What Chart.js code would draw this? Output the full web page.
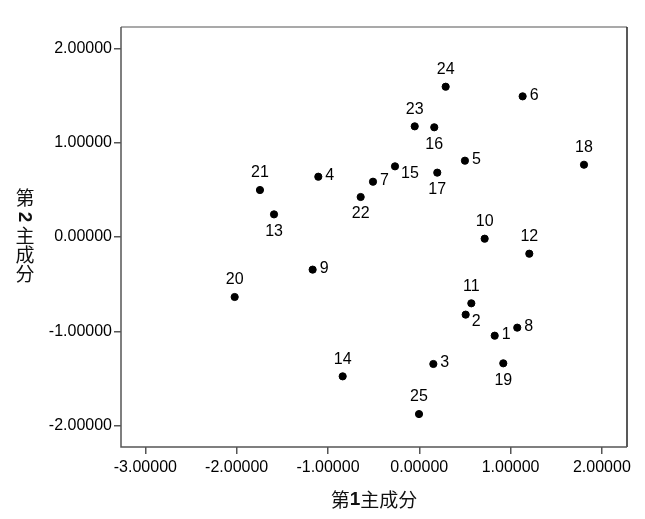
<!DOCTYPE html>
<html>
<head>
<meta charset="utf-8">
<title>主成分得分散点图</title>
<script src="https://cdn.jsdelivr.net/npm/chart.js@4.4.0/dist/chart.umd.min.js"></script>
<style>
  body { margin: 0; background: #fff; }
  canvas { display: block; }
</style>
</head>
<body>
<canvas id="chart" width="645" height="519"></canvas>
<script>
// case numbers and their scores on the two components
const caseIds = [1, 2, 3, 4, 5, 6, 7, 8, 9, 10, 11, 12, 13, 14, 15, 16, 17, 18, 19, 20, 21, 22, 23, 24, 25];
const comp1 = [0.826, 0.508, 0.154, -1.106, 0.500, 1.132, -0.507, 1.073, -1.168, 0.716, 0.570, 1.205, -1.591,
  -0.839, -0.266, 0.164, 0.197, 1.804, 0.920, -2.022, -1.745, -0.642, -0.050, 0.289, -0.003];
const comp2 = [-1.046, -0.823, -1.346, 0.639, 0.809, 1.491, 0.586, -0.961, -0.346, -0.018, -0.703, -0.177, 0.240,
  -1.477, 0.749, 1.163, 0.682, 0.766, -1.339, -0.636, 0.498, 0.424, 1.173, 1.593, -1.877];
// where each case label sits: t = above, b = below, r = right, br = lower right
const labelSide = ['r', 'br', 'r', 'r', 'r', 'r', 'r', 'r', 'r', 't', 't', 't', 'b',
  't', 'br', 'b', 'b', 't', 'b', 't', 't', 'b', 't', 't', 't'];

const xTicks = [-3, -2, -1, 0, 1, 2];
const yTicks = [-2, -1, 0, 1, 2];

const points = caseIds.map((id, i) => ({ x: comp1[i], y: comp2[i] }));

const numFont = '16px "Liberation Sans", Arial, sans-serif';

// case number next to every dot
const caseLabels = {
  id: 'caseLabels',
  afterDatasetsDraw(chart) {
    const ctx = chart.ctx;
    const meta = chart.getDatasetMeta(0);
    ctx.save();
    ctx.font = numFont;
    ctx.fillStyle = '#000';
    ctx.textBaseline = 'middle';
    meta.data.forEach((pt, i) => {
      const side = labelSide[i];
      let x = pt.x, y = pt.y;
      if (side === 't') { ctx.textAlign = 'center'; y -= 17; }
      else if (side === 'b') { ctx.textAlign = 'center'; y += 17; }
      else if (side === 'br') { ctx.textAlign = 'left'; x += 6; y += 7; }
      else { ctx.textAlign = 'left'; x += 7; y -= 1; }
      ctx.fillText(String(caseIds[i]), x, y);
    });
    ctx.restore();
  }
};

// box around the plot area + axis titles
const frame = {
  id: 'frame',
  afterDraw(chart) {
    const ctx = chart.ctx;
    const a = chart.chartArea;
    ctx.save();
    ctx.lineWidth = 1.5;
    ctx.strokeStyle = '#8c8c8c';
    ctx.beginPath(); ctx.moveTo(a.left, a.top); ctx.lineTo(a.right, a.top); ctx.stroke();
    ctx.strokeStyle = '#222';
    ctx.beginPath(); ctx.moveTo(a.right, a.top); ctx.lineTo(a.right, a.bottom); ctx.stroke();
    ctx.strokeStyle = '#555';
    ctx.beginPath(); ctx.moveTo(a.left, a.top); ctx.lineTo(a.left, a.bottom); ctx.lineTo(a.right, a.bottom); ctx.stroke();

    const cjk = '19px "Noto Sans CJK SC", sans-serif';
    const bold = 'bold 19px "Liberation Sans", Arial, sans-serif';
    ctx.fillStyle = '#111';
    ctx.textBaseline = 'middle';

    // x title: 第1主成分
    const parts = [['第', cjk], ['1', bold], ['主成分', cjk]];
    let total = 0;
    parts.forEach(p => { ctx.font = p[1]; total += ctx.measureText(p[0]).width; });
    let x = 374 - total / 2;
    ctx.textAlign = 'left';
    parts.forEach(p => { ctx.font = p[1]; ctx.fillText(p[0], x, 500); x += ctx.measureText(p[0]).width; });

    // y title: vertical, digit turned sideways
    const chars = ['第', '2', '主', '成', '分'];
    const ys = [198, 217, 236, 255, 274];
    ctx.textAlign = 'center';
    chars.forEach((c, i) => {
      if (c === '2') {
        ctx.save();
        ctx.translate(25, ys[i]);
        ctx.rotate(Math.PI / 2);
        ctx.font = bold;
        ctx.fillText(c, 0, 1);
        ctx.restore();
      } else {
        ctx.font = cjk;
        ctx.fillText(c, 25, ys[i]);
      }
    });
    ctx.restore();
  }
};

const tickGrid = {
  display: true,
  drawOnChartArea: false,
  drawTicks: true,
  tickLength: 7,
  color: '#555',
  lineWidth: 1.5
};

new Chart(document.getElementById('chart'), {
  type: 'scatter',
  data: {
    datasets: [{
      data: points,
      backgroundColor: '#000',
      borderColor: '#000',
      pointRadius: 3.6,
      pointHoverRadius: 3.6
    }]
  },
  options: {
    responsive: false,
    animation: false,
    devicePixelRatio: 1,
    layout: { padding: { left: 0, right: 18, top: 27, bottom: 0 } },
    plugins: { legend: { display: false }, tooltip: { enabled: false } },
    scales: {
      x: {
        type: 'linear',
        min: -3.267,
        max: 2.275,
        grid: tickGrid,
        border: { display: false },
        afterBuildTicks: s => { s.ticks = xTicks.map(v => ({ value: v })); },
        afterFit: s => { s.height = 72; },
        ticks: {
          color: '#000',
          font: { family: '"Liberation Sans", Arial, sans-serif', size: 16 },
          padding: 4,
          maxRotation: 0,
          callback: v => v.toFixed(5)
        }
      },
      y: {
        type: 'linear',
        min: -2.226,
        max: 2.226,
        grid: tickGrid,
        border: { display: false },
        afterBuildTicks: s => { s.ticks = yTicks.map(v => ({ value: v })); },
        afterFit: s => { s.width = 121; },
        ticks: {
          color: '#000',
          font: { family: '"Liberation Sans", Arial, sans-serif', size: 16 },
          padding: 2,
          callback: v => v.toFixed(5)
        }
      }
    }
  },
  plugins: [caseLabels, frame]
});
</script>
</body>
</html>
